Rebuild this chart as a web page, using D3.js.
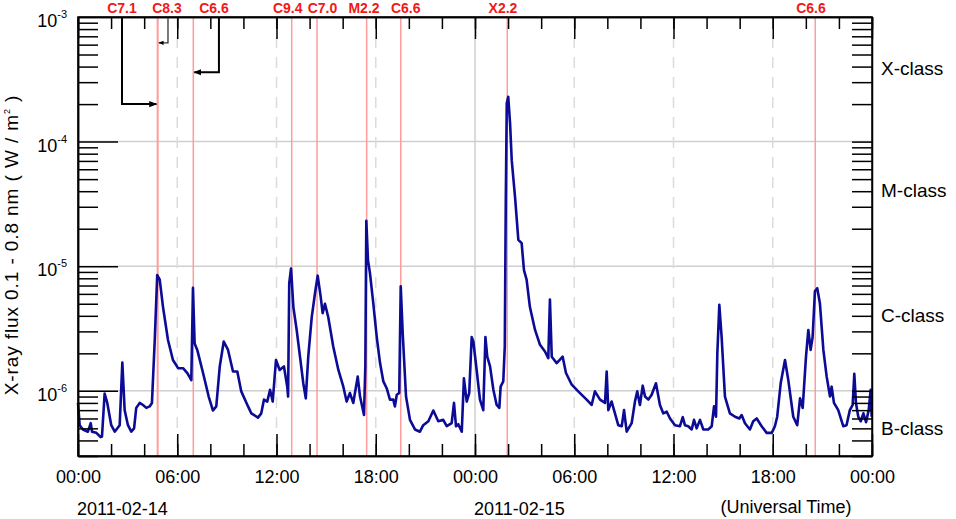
<!DOCTYPE html>
<html>
<head>
<meta charset="utf-8">
<script src="https://cdn.jsdelivr.net/npm/d3@7"></script>
<style>
  body { margin: 0; background: #fff; }
  svg { display: block; font-family: "Liberation Sans", Arial, Helvetica, sans-serif; }
  .axis path, .axis line { stroke: #000; stroke-width: 1.5; }
</style>
</head>
<body>
<svg id="chart" width="956" height="519"></svg>
<script>
'use strict'

// GOES X-ray flux, hours since 2011-02-14 00:00 UT
const fluxHours = [
  0.00,0.10,0.30,0.60,0.77,0.85,1.11,1.37,1.45,1.61,
  1.77,2.01,2.22,2.52,2.68,2.82,3.02,3.22,3.39,3.52,
  3.73,3.93,4.13,4.33,4.47,4.64,4.79,4.94,5.14,5.44,
  5.74,6.05,6.35,6.61,6.85,6.95,7.05,7.21,7.56,7.90,
  8.16,8.36,8.57,8.81,9.07,9.37,9.63,9.87,10.28,10.48,
  10.88,11.08,11.24,11.44,11.61,11.77,11.97,12.19,12.45,12.65,
  12.70,12.77,12.88,13.02,13.22,13.42,13.62,13.77,13.92,14.13,
  14.33,14.49,14.67,14.79,14.93,15.13,15.43,15.74,16.04,16.24,
  16.44,16.64,16.91,17.05,17.29,17.37,17.43,17.53,17.65,17.85,
  18.06,18.26,18.46,18.66,18.86,19.06,19.16,19.27,19.42,19.51,
  19.63,19.83,20.07,20.37,20.67,20.87,21.18,21.48,21.78,22.08,
  22.29,22.59,22.73,22.85,22.99,23.20,23.33,23.50,23.65,23.80,
  23.90,24.10,
  24.30,24.50,24.63,24.74,24.91,25.11,25.31,25.47,25.55,25.71,
  25.80,25.86,25.92,26.01,26.12,26.22,26.42,26.62,26.82,26.96,
  27.12,27.32,27.63,27.93,28.23,28.43,28.53,28.64,28.94,29.30,
  29.50,29.85,30.24,30.75,31.05,31.25,31.56,31.86,31.96,32.06,
  32.26,32.46,32.66,32.87,33.01,33.17,33.47,33.67,33.81,33.97,
  34.14,34.28,34.48,34.68,34.94,35.18,35.38,35.59,35.79,
  36.09,36.39,36.56,36.69,36.89,37.10,37.24,37.40,37.60,37.80,
  38.10,38.31,38.45,38.57,38.65,38.77,38.91,39.11,39.41,39.72,
  39.98,40.12,40.32,40.62,40.82,41.03,41.33,41.63,41.94,42.13,
  42.27,42.48,42.74,42.94,43.24,43.48,43.65,43.81,44.01,44.15,
  44.29,44.41,44.55,44.69,44.85,45.06,45.26,45.46,45.56,45.70,
  45.96,46.26,46.46,46.66,46.83,46.93,47.03,47.17,47.32,47.48,
  47.64,47.80,47.92,47.98
]

// flux in micro W/m^2
const fluxMicro = [
  0.80,0.53,0.49,0.47,0.55,0.47,0.46,0.425,0.43,0.95,
  0.80,0.53,0.47,0.53,1.69,0.70,0.53,0.47,0.50,0.73,
  0.80,0.77,0.73,0.75,0.80,2.56,8.5,7.8,4.7,2.56,
  1.77,1.52,1.52,1.39,1.22,6.7,2.4,2.13,1.39,0.90,
  0.695,0.75,1.57,2.49,2.13,1.43,1.43,0.99,0.75,0.66,
  0.61,0.66,0.85,0.82,1.02,0.82,1.77,1.47,1.57,1.08,
  0.90,7.3,9.6,4.7,3.08,1.88,1.15,0.87,1.88,3.9,
  6.1,8.4,5.7,4.2,5.0,3.9,2.27,1.47,1.08,0.82,
  0.96,0.80,1.30,0.90,0.64,1.57,23.2,11.2,8.8,5.05,
  2.7,1.67,1.19,1.05,0.85,0.85,0.75,0.93,0.96,6.9,
  2.9,0.90,0.585,0.49,0.47,0.53,0.57,0.695,0.57,0.585,
  0.52,0.55,0.80,0.52,0.54,0.47,1.26,0.82,0.96,2.7,
  2.49,1.47,
  0.85,0.70,2.7,1.88,1.57,1.02,0.77,0.73,1.08,1.19,
  2.27,32,203,229,140,71,36,16.3,15.3,9.3,
  7.8,4.7,3.08,2.34,2.07,1.83,5.4,1.88,1.67,1.88,
  1.39,1.12,0.99,0.85,0.77,0.99,0.85,0.80,1.43,0.70,
  0.82,0.66,0.53,0.52,0.70,0.47,0.55,0.82,0.99,0.77,
  1.10,0.90,0.85,0.93,1.15,0.77,0.66,0.68,0.60,
  0.53,0.52,0.615,0.53,0.52,0.49,0.585,0.50,0.585,0.49,
  0.49,0.52,0.75,0.62,2.0,4.9,2.7,0.90,0.66,0.62,
  0.60,0.64,0.55,0.49,0.57,0.60,0.52,0.46,0.46,0.52,
  0.62,1.15,1.77,1.22,0.62,0.53,0.87,0.73,1.88,3.08,
  2.13,2.7,6.3,6.66,5.05,2.13,1.30,0.90,1.08,0.80,
  0.70,0.52,0.53,0.70,0.77,1.37,0.80,0.62,0.57,0.66,
  0.56,0.70,1.02,0.62
]

// flares: name, peak (hours since start)
const flareNames = ['C7.1','C8.3','C6.6','C9.4','C7.0','M2.2','C6.6','X2.2','C6.6']
const flareHours = [4.80, 4.83, 6.97, 12.92, 14.45, 17.45, 19.51, 25.95, 44.57]

const classNames = ['X-class','M-class','C-class','B-class']
const classLevels = [3.4e-4, 3.6e-5, 3.6e-6, 4.4e-7]
const decades = [1e-6, 1e-5, 1e-4, 1e-3]
const dayLabels = ['2011-02-14','2011-02-15']

window.onload = function() {
  const W = 956, H = 519,
        margin = {top: 17, right: 84, bottom: 63, left: 78},
        width = W - margin.left - margin.right,
        height = H - margin.top - margin.bottom,
        t0 = Date.UTC(2011, 1, 14),
        hr = 3600 * 1000,
        toDate = h => new Date(t0 + h * hr)

  const x = d3.scaleUtc()
    .domain([toDate(0), toDate(48)])
    .range([0, width])
  const y = d3.scaleLog()
    .domain([3e-7, 1e-3])
    .range([height, 0])

  const svg = d3.select('#chart')
  const g = svg.append('g')
    .attr('transform', 'translate(' + margin.left + ',' + margin.top + ')')

  // horizontal grid at decades
  g.append('g').selectAll('line')
    .data(decades.slice(0, 3))
    .enter().append('line')
    .attr('x1', 0).attr('x2', width)
    .attr('y1', d => y(d)).attr('y2', d => y(d))
    .attr('stroke', '#cfcfcf').attr('stroke-width', 1.5)

  // vertical grid every 6 hours, solid at day boundary
  const sixHours = d3.utcHour.every(6).range(toDate(1), toDate(48))
  g.append('g').selectAll('line')
    .data(sixHours)
    .enter().append('line')
    .attr('x1', d => x(d)).attr('x2', d => x(d))
    .attr('y1', 0).attr('y2', height)
    .attr('stroke', d => d.getUTCHours() === 0 ? '#cfcfcf' : '#dcdcdc')
    .attr('stroke-width', 1.5)
    .attr('stroke-dasharray', d => d.getUTCHours() === 0 ? null : '11,9')

  // flare lines
  g.append('g').selectAll('line')
    .data(flareHours)
    .enter().append('line')
    .attr('x1', d => x(toDate(d))).attr('x2', d => x(toDate(d)))
    .attr('y1', 0).attr('y2', height)
    .attr('stroke', '#ff9c9c').attr('stroke-width', 1.5)

  // flux curve
  const series = fluxHours.map((h, i) => ({t: toDate(h), v: fluxMicro[i] * 1e-6}))
  const line = d3.line()
    .x(d => x(d.t))
    .y(d => y(d.v))
  g.append('path')
    .datum(series)
    .attr('d', line)
    .attr('fill', 'none')
    .attr('stroke', '#0b0b96')
    .attr('stroke-width', 2.6)
    .attr('stroke-linejoin', 'round')

  // axes: ticks point inwards
  const twoHours = d3.utcHour.every(2)
  const minorY = []
  for (let k = -7; k < -3; k++) {
    for (let m = 2; m < 10; m++) {
      const v = m * Math.pow(10, k)
      if (v >= 3e-7 && v < 1e-3) minorY.push(v)
    }
  }

  g.append('g').attr('class', 'axis')
    .attr('transform', 'translate(0,' + height + ')')
    .call(d3.axisBottom(x).ticks(twoHours).tickSize(-12).tickSizeOuter(0).tickFormat(''))
  g.append('g').attr('class', 'axis xlabels')
    .attr('transform', 'translate(0,' + height + ')')
    .call(d3.axisBottom(x).ticks(d3.utcHour.every(6)).tickSize(-22).tickSizeOuter(0)
      .tickPadding(14).tickFormat(d3.utcFormat('%H:%M')))
  g.append('g').attr('class', 'axis')
    .call(d3.axisTop(x).ticks(twoHours).tickSize(-12).tickSizeOuter(0).tickFormat(''))
  g.append('g').attr('class', 'axis')
    .call(d3.axisTop(x).ticks(d3.utcHour.every(6)).tickSize(-22).tickSizeOuter(0).tickFormat(''))

  g.append('g').attr('class', 'axis')
    .call(d3.axisLeft(y).tickValues(minorY).tickSize(-20).tickSizeOuter(0).tickFormat(''))
  g.append('g').attr('class', 'axis')
    .call(d3.axisLeft(y).tickValues(decades.slice(0, 3)).tickSize(-40).tickSizeOuter(0).tickFormat(''))
  g.append('g').attr('class', 'axis')
    .attr('transform', 'translate(' + width + ',0)')
    .call(d3.axisRight(y).tickValues(minorY.concat(decades.slice(0, 3))).tickSize(-20).tickSizeOuter(0).tickFormat(''))

  g.selectAll('.xlabels text')
    .attr('font-size', 18)
    .attr('font-family', '"Liberation Sans", Arial, sans-serif')
    .attr('fill', '#000')

  // y tick labels 10^k
  const ylab = g.append('g').selectAll('text')
    .data(decades)
    .enter().append('text')
    .attr('x', -11)
    .attr('y', d => y(d) + 10)
    .attr('text-anchor', 'end')
    .attr('font-size', 18)
  ylab.append('tspan').text('10')
  ylab.append('tspan')
    .attr('dy', -9)
    .attr('font-size', 11)
    .text(d => Math.round(Math.log10(d)))

  // y title
  const yt = svg.append('text')
    .attr('transform', 'translate(18,' + 245 + ') rotate(-90)')
    .attr('text-anchor', 'middle')
    .attr('font-size', 19)
    .attr('letter-spacing', 0.9)
  yt.append('tspan').text('X-ray flux 0.1 - 0.8 nm ( W / m')
  yt.append('tspan').attr('dy', -8).attr('font-size', 9).text('2')
  yt.append('tspan').attr('dy', 8).text(' )')

  // class labels on the right
  g.append('g').selectAll('text')
    .data(classNames)
    .enter().append('text')
    .attr('x', width + 9)
    .attr('y', (d, i) => y(classLevels[i]))
    .attr('font-size', 19)
    .text(d => d)

  // date labels and time zone
  g.append('g').selectAll('text')
    .data(dayLabels)
    .enter().append('text')
    .attr('x', (d, i) => x(toDate(i * 24)) - 1)
    .attr('y', height + 59)
    .attr('font-size', 18)
    .text(d => d)
  g.append('text')
    .attr('x', x(toDate(42.8)))
    .attr('y', height + 57)
    .attr('text-anchor', 'middle')
    .attr('font-size', 18)
    .text('(Universal Time)')

  // flare labels, crowded ones are shifted and tied to their line with an arrow
  const labelHours = [2.66, 5.38, 8.22, 12.68, 14.78, 17.29, 19.81, 25.69, 44.31]
  g.append('g').selectAll('text')
    .data(flareNames)
    .enter().append('text')
    .attr('x', (d, i) => x(toDate(labelHours[i])))
    .attr('y', -4)
    .attr('text-anchor', 'middle')
    .attr('font-size', 14)
    .attr('font-weight', 'bold')
    .attr('fill', '#f21818')
    .text(d => d)

  const defs = svg.append('defs')
  defs.append('marker')
    .attr('id', 'head')
    .attr('viewBox', '0 0 10 10')
    .attr('refX', 9).attr('refY', 5)
    .attr('markerWidth', 4).attr('markerHeight', 4)
    .attr('orient', 'auto')
    .append('path').attr('d', 'M0,1L10,5L0,9Z').attr('fill', '#000')

  const arrows = [
    {flare: 0, from: 2.66, level: 2e-4, w: 2, c: '#000'},
    {flare: 1, from: 5.44, level: 6.2e-4, w: 1.3, c: '#333'},
    {flare: 2, from: 8.52, level: 3.6e-4, w: 2, c: '#000'}
  ]
  g.append('g').selectAll('path')
    .data(arrows)
    .enter().append('path')
    .attr('d', d => {
      const xs = x(toDate(d.from)), xe = x(toDate(flareHours[d.flare])),
            ye = y(d.level), off = xe > xs ? -1 : 1
      return 'M' + xs + ',0V' + ye + 'H' + (xe + off)
    })
    .attr('fill', 'none')
    .attr('stroke', d => d.c)
    .attr('stroke-width', d => d.w)
    .attr('marker-end', 'url(#head)')

  // frame
  g.append('rect')
    .attr('width', width).attr('height', height)
    .attr('fill', 'none').attr('stroke', '#000').attr('stroke-width', 1.5)
}
</script>
</body>
</html>
